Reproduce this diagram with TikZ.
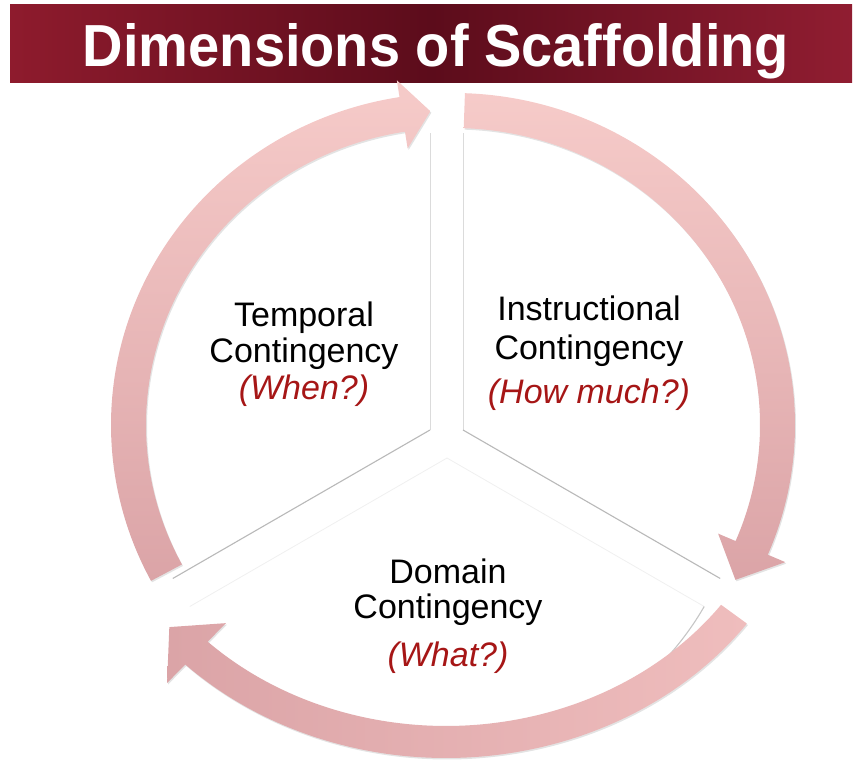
\documentclass[tikz,border=0pt]{standalone}
\usepackage{fontspec}
\setmainfont{Liberation Sans}
\usetikzlibrary{calc,shadows}

\definecolor{bannerL}{HTML}{8E1B2D}
\definecolor{bannerM}{HTML}{5C0C1B}
\definecolor{bannerR}{HTML}{901D31}
\definecolor{askred}{HTML}{A61616}
\definecolor{pinkA}{HTML}{F6CBC9}
\definecolor{pinkB}{HTML}{DBA4A7}
\definecolor{pinkC}{HTML}{EFBDBD}

\tikzset{
  label/.style={font=\fontsize{34}{40}\selectfont, anchor=base, inner sep=0pt},
  ask/.style={label, text=askred, font=\fontsize{34}{40}\selectfont\itshape},
  sectorface/.style={fill=white},
  faintedge/.style={draw=gray!28, line width=0.8pt},
  shadeedge/.style={draw=gray!55, line width=1.1pt},
  ghostedge/.style={draw=gray!12, line width=0.8pt},
  ringarrow/.style={drop shadow={shadow xshift=1pt, shadow yshift=-1.5pt, opacity=0.22, fill=gray}}
}

\begin{document}
\begin{tikzpicture}[x=1pt,y=1pt]
\useasboundingbox (0,0) rectangle (860,762);

% title banner
\shade[left color=bannerL, right color=bannerR, middle color=bannerM] (10,679) rectangle (852,757);
\node[text=white, font=\bfseries\fontsize{56}{60}\selectfont, anchor=base, inner sep=0pt, yscale=1.06] (title) at (436,695) {Dimensions of Scaffolding};

% three pie sectors, pulled slightly apart
\coordinate (L) at (430,332);
\coordinate (R) at (463,332);
\coordinate (B) at (447,304);
\def\pr{297}
\fill[sectorface] (L) -- ++(90:\pr) arc[start angle=90, end angle=210, radius=\pr] -- cycle;
\fill[sectorface] (R) -- ++(-30:\pr) arc[start angle=-30, end angle=90, radius=\pr] -- cycle;
\fill[sectorface] (B) -- ++(210:\pr) arc[start angle=210, end angle=330, radius=\pr] -- cycle;
% sector edges: shaded on the lower sides, faint elsewhere
\draw[faintedge]  (L) -- ++(90:\pr);
\draw[shadeedge]  (L) -- ++(210:\pr);
\draw[faintedge]  (R) -- ++(90:\pr);
\draw[shadeedge]  (R) -- ++(-30:\pr);
\draw[ghostedge]  (B) -- ++(210:\pr);
\draw[ghostedge]  (B) -- ++(-30:\pr);
\draw[shadeedge, draw=gray!45] (B) ++(305:\pr) arc[start angle=305, end angle=330, radius=\pr];

% circular arrows
\coordinate (C) at (453,337);
\coordinate (C2) at (446,330);

% left arrow: lower left up to the top
\path[ringarrow, top color=pinkA, bottom color=pinkB]
  ($(C)+(208:342pt and 332pt)$) arc[start angle=208, end angle=99, x radius=342pt, y radius=332pt]
  -- ($(C)+(99:359pt and 349pt)$) -- ($(C)+(94:324.5pt and 314.5pt)$)
  -- ($(C)+(99:290pt and 280pt)$) -- ($(C)+(99:307pt and 297pt)$)
  arc[start angle=99, end angle=208, x radius=307pt, y radius=297pt] -- cycle;

% right arrow: top down to lower right
\path[ringarrow, top color=pinkA, bottom color=pinkB]
  ($(C)+(88:342pt and 332pt)$) arc[start angle=88, end angle=-23, x radius=342pt, y radius=332pt]
  -- ($(C)+(-23:361pt and 351pt)$) -- ($(C)+(-29.5:324.5pt and 314.5pt)$)
  -- ($(C)+(-23:288pt and 278pt)$) -- ($(C)+(-23:307pt and 297pt)$)
  arc[start angle=-23, end angle=88, x radius=307pt, y radius=297pt] -- cycle;

% bottom arrow: lower right round to lower left
\path[ringarrow, left color=pinkB, right color=pinkC]
  ($(C2)+(-36:372pt and 326pt)$) arc[start angle=-36, end angle=-134.5, x radius=372pt, y radius=326pt]
  -- ($(C2)+(-134.5:398pt and 352pt)$) -- ($(C2)+(-141:356pt and 310pt)$)
  -- ($(C2)+(-134.5:314pt and 268pt)$) -- ($(C2)+(-134.5:340pt and 294pt)$)
  arc[start angle=-134.5, end angle=-36, x radius=340pt, y radius=294pt] -- cycle;

% sector labels
\node[label] (tmp1) at (304,435) {Temporal};
\node[label] (tmp2) at (304,399) {Contingency};
\node[ask]   (tmp3) at (304,362) {(When?)};

\node[label] (ins1) at (589,441) {Instructional};
\node[label] (ins2) at (589,402) {Contingency};
\node[ask]   (ins3) at (589,358) {(How much?)};

\node[label] (dom1) at (448,178) {Domain};
\node[label] (dom2) at (448,143) {Contingency};
\node[ask]   (dom3) at (448,95) {(What?)};
\end{tikzpicture}
\end{document}
